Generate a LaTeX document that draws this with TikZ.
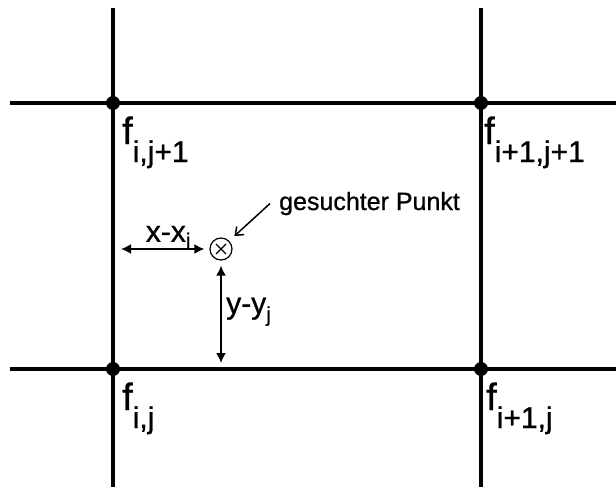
\documentclass[tikz,border=0pt]{standalone}
\usepackage{fontspec}
\setmainfont{Liberation Sans}[UprightFeatures={FakeBold=0.8}]
\usetikzlibrary{arrows.meta}

\newcommand{\subgr}{\fontsize{30}{30}\selectfont}
\newcommand{\idx}[1]{\raisebox{-18pt}{\subgr #1}}

\begin{document}
\begin{tikzpicture}[x=1pt, y=-1pt, >={Latex[length=10pt,width=10pt]},
    gitter/.style={line width=3.5pt},
    knoten/.style={circle,fill=black,inner sep=0pt,minimum size=14pt},
    flabel/.style={anchor=base west,inner sep=0pt,font=\fontsize{38}{38}\selectfont},
    masz/.style={<->,line width=1.8pt},
    maszlabel/.style={font=\fontsize{30}{30}\selectfont}]
    \useasboundingbox (0,0) rectangle (616,487);

    % Gitterlinien
    \draw[gitter] (10,103) -- (616,103);
    \draw[gitter] (10,369) -- (616,369);
    \draw[gitter] (113,8) -- (113,487);
    \draw[gitter] (481,8) -- (481,487);

    \node[knoten] (ij1) at (113,103) {};
    \node[knoten] (i1j1) at (481,103) {};
    \node[knoten] (ij) at (113,369) {};
    \node[knoten] (i1j) at (481,369) {};

    \node[flabel] (fij1) at (122,144) {f\idx{i,j+1}};
    \node[flabel] (fi1j1) at (484,144) {f\idx{i+1,j+1}};
    \node[flabel] (fij) at (122,410) {f\idx{i,j}};
    \node[flabel] (fi1j) at (486,410) {f\idx{i+1,j}};

    % gesuchter Punkt
    \node[circle,draw,line width=1.2pt,minimum size=22pt,inner sep=0pt] (P) at (221,249) {};
    \draw[line width=1.2pt] ([shift={(-5,-5)}]P.center) -- ([shift={(5,5)}]P.center);
    \draw[line width=1.2pt] ([shift={(-5,5)}]P.center) -- ([shift={(5,-5)}]P.center);

    \node[anchor=base west,inner sep=0pt,font=\fontsize{25}{25}\selectfont] (T) at (279,210) {gesuchter Punkt};
    \draw[-{Straight Barb[length=7pt,width=11pt]},line width=1.5pt,shorten >=7pt] ([xshift=-9pt]T.west) -- (P.45);

    \coordinate (xl) at (121,249);
    \coordinate (yl) at (221,363);
    \draw[masz,shorten >=5pt] (xl) -- node[above,maszlabel,yshift=-3pt,xshift=3pt] {x-x\raisebox{-6pt}{\fontsize{21}{21}\selectfont i}} (P.west);
    \draw[masz,shorten <=5pt] (P.south) -- node[right,maszlabel,xshift=1pt] {y-y\raisebox{-8pt}{\fontsize{21}{21}\selectfont j}} (yl);
\end{tikzpicture}
\end{document}
